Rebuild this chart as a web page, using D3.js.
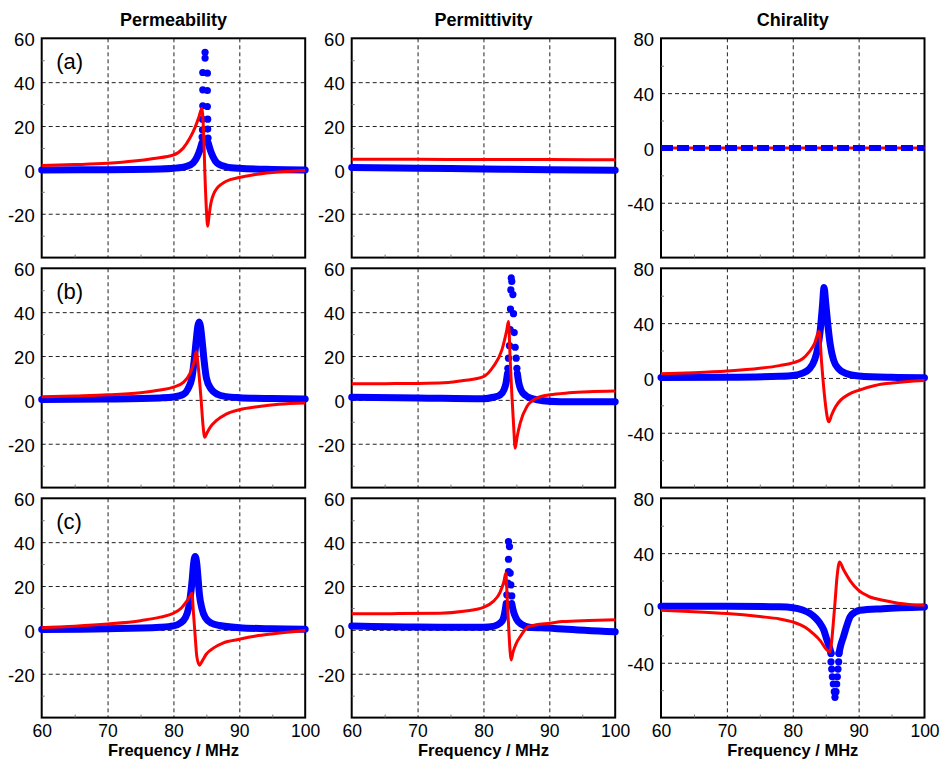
<!DOCTYPE html>
<html>
<head>
<meta charset="utf-8">
<script src="https://cdn.jsdelivr.net/npm/d3@7"></script>
<style>
  body { margin: 0; background: #fff; }
  text { font-family: "Liberation Sans", Arial, Helvetica, sans-serif; }
</style>
</head>
<body>
<script>
// [frequency MHz, value] pairs
// red = real part (line), blue = imaginary part (dots), null = break in the dense band

// (a) permeability
const muA_re = [[60,2],[65,2.4],[70,3],[74,4],[77,5.2],[80,6.8],[81.5,10],[82.5,14.5],[83.3,19.5],[83.9,24.5],[84.3,28],[84.55,19],[84.8,-4],[85.0,-18],[85.2,-25.7],[85.4,-21],[85.7,-15],[86.1,-11],[86.6,-8.4],[87.3,-6.5],[88,-5.2],[90,-3.5],[92,-2.3],[95,-1.2],[100,-0.3]];
const muA_im = [[60,0],[70,0.1],[78,0.4],[80,0.7],[82,1.6],[83,3.2],[83.6,6],[84.0,9],[84.35,12.5],null,[85.25,12.5],[85.6,9],[86,6],[86.6,3.2],[88,1.4],[90,0.7],[95,0.2],[100,0]];
const muA_dots = [[84.8,53.6],[84.8,51],[84.45,44.4],[84.45,36.5],[84.45,29.2],[84.4,23.1],[84.4,18.3],[84.35,15],[85.15,44.1],[85.15,36.2],[85.15,28.9],[85.2,23.1],[85.2,18.6],[85.25,14.5]];

// (a) permittivity
const epsA_re = [[60,4.9],[70,4.8],[80,4.7],[90,4.7],[100,4.6]];
const epsA_im = [[60,1.1],[70,0.8],[80,0.4],[90,0.1],[100,-0.2]];

// (a) chirality
const kapA_re = [[60,0],[100,0]];
const kapA_im = [[60,0],[100,0]];

// (b) permeability
const muB_re = [[60,1.4],[65,1.8],[70,2.3],[75,3.3],[78,4.5],[80,5.8],[81.5,8],[82.5,12],[83.1,17],[83.45,22],[83.8,14],[84.2,0],[84.5,-12],[84.75,-17],[85.1,-15],[85.7,-12],[86.5,-9.5],[88,-6.5],[90,-4.5],[93,-3],[96,-2],[100,-1.4]];
const muB_im = [[60,0.2],[70,0.4],[78,0.9],[80,1.3],[81.5,2.5],[82.2,5],[82.8,10],[83.15,18],[83.45,27],[83.7,33.5],[83.9,35.5],[84.1,33.5],[84.35,27],[84.65,18],[85.0,10],[85.7,5],[86.7,2.5],[88,1.5],[90,1],[95,0.6],[100,0.4]];

// (b) permittivity
const epsB_re = [[60,7.3],[65,7.4],[70,7.5],[74,7.8],[77,8.8],[80,10.6],[81.5,15.2],[82.8,22.8],[83.55,32],[83.8,35.7],[84.06,18.3],[84.3,3],[84.56,-10.6],[84.82,-22],[85.1,-17],[85.58,-10.6],[86.6,-3],[88.1,0.8],[90.1,2.3],[93,3.2],[96,3.7],[100,4]];
const epsB_im = [[60,1.2],[70,0.9],[80,0.5],[81.5,1.2],[82.5,2.2],[83.1,4.5],[83.45,8],[83.65,12],null,[85.15,12],[85.35,8],[85.7,4.5],[86.4,2],[87.5,0.5],[89,-0.4],[91.7,-0.8],[100,-0.9]];
const epsB_dots = [[84.21,55.6],[84.16,50.2],[84.1,41.4],[84.06,32],[83.95,24.7],[83.8,19],[83.7,14.4],[84.3,54],[84.47,48],[84.56,39.3],[84.67,30.7],[84.82,24],[84.97,19],[85.08,14.4]];

// (b) chirality
const kapB_re = [[60,3],[65,3.8],[70,5],[75,7],[78,9],[80,11],[81.5,14],[82.5,19],[83.3,25],[84.0,34],[84.4,10],[84.8,-12],[85.3,-30],[85.5,-32],[85.9,-27],[86.5,-21],[87.3,-16],[88.5,-12],[90,-9],[92.5,-5.5],[95,-3.7],[100,-1.8]];
const kapB_im = [[60,0.3],[70,0.5],[78,1.2],[80,1.8],[81.5,3.5],[82.5,6.5],[83.3,13],[83.8,22],[84.2,36],[84.5,52],[84.75,66],[85.0,55],[85.3,40],[85.7,24],[86.2,13],[87,6.5],[88,3.5],[90,1.5],[95,0.5],[100,0.2]];

// (c) permeability
const muC_re = [[60,1],[65,1.7],[70,2.7],[75,4.2],[78,5.8],[80,7.6],[81.2,10],[82,13],[82.5,15.3],[82.8,16.7],[83.04,7.6],[83.3,-3],[83.55,-12.2],[83.95,-16.1],[84.4,-14],[85,-11],[86.1,-8.2],[87.5,-6],[90,-4.3],[92.5,-2.8],[95.2,-1.8],[100,-0.3]];
const muC_im = [[60,0.2],[70,0.5],[78,1.2],[80,1.8],[81,3],[81.8,5.5],[82.3,10],[82.6,16],[82.85,23],[83.05,30],[83.3,33.5],[83.55,30],[83.75,23],[83.95,16],[84.3,10],[84.85,5.5],[85.8,3],[87,2],[90,1],[95,0.5],[100,0.3]];

// (c) permittivity
const epsC_re = [[60,7.3],[66,7.4],[73.4,7.6],[77,8.5],[80,10.3],[81.5,13],[82.5,17],[83.1,22],[83.4,25.9],[83.6,15],[83.85,0],[84.05,-10],[84.2,-13.7],[84.5,-10],[85,-6],[85.6,-3],[86.8,1.5],[88,2.3],[90.1,3],[92,3.8],[96,4.3],[100,4.6]];
const epsC_im = [[60,1.8],[70,1.3],[80,1.2],[81.5,1.6],[82.5,3],[83,5],[83.3,9],[83.45,12],null,[84.3,12],[84.5,9],[85,5],[85.8,2.5],[87,1.2],[90,0.8],[92,0.4],[100,-0.9]];
const epsC_dots = [[83.8,40.3],[83.95,38],[83.8,32.2],[83.8,26.6],[84.06,25.9],[83.7,21.3],[84.16,20.5],[83.55,16],[84.3,15.5]];

// (c) chirality
const kapC_re = [[60,-1.7],[65,-2.7],[70,-4.1],[75,-6.3],[78,-8],[80,-10.2],[82,-14.5],[83.1,-18.7],[84.2,-24],[85.2,-30.8],[85.6,-32],[86.35,0],[86.75,24],[87.1,33.5],[87.7,28],[88.7,20],[90,12.8],[91.5,8.5],[93.7,5.6],[96,3.5],[100,2]];
const kapC_im = [[60,1.2],[70,1.2],[78,0.8],[80,0.2],[81.5,-1.5],[82.6,-4],[83.5,-7.5],[84.1,-11],[84.7,-16],[85.2,-23.5],[85.6,-29],[85.81,-33],null,[87.02,-33],[87.3,-27],[87.7,-21],[88.2,-13],[88.7,-6.5],[89.5,-3],[90.2,-1.7],[93.7,-0.5],[100,0.7]];
const kapC_dots = [[85.81,-33.2],[85.81,-39.3],[85.91,-44.6],[86.01,-50.2],[86.16,-55.5],[86.31,-61.1],[86.41,-65.2],[86.57,-61.1],[86.67,-55.5],[86.77,-50.2],[86.87,-44.6],[86.97,-39.3],[87.02,-33.2]];

const columnTitles = ['Permeability', 'Permittivity', 'Chirality'];
const rowLabels = ['(a)', '(b)', '(c)'];
const freqTicks = [60, 70, 80, 90, 100];
const freqMinor = [65, 75, 85, 95];
const muEpsTicks = [-20, 0, 20, 40, 60];
const muEpsMinor = [-30, -10, 10, 30, 50];
const kapTicks = [-40, 0, 40, 80];
const kapMinor = [-60, -20, 20, 60];

const width = 940, height = 760;
const colX = [41.7, 351.7, 661];
const rowY = [38.3, 268.3, 498.3];
const pw = 263.5, ph = 219.3;

const panels = [
  {row: 0, col: 0, re: muA_re, im: muA_im, dots: muA_dots},
  {row: 0, col: 1, re: epsA_re, im: epsA_im},
  {row: 0, col: 2, re: kapA_re, im: kapA_im, dashed: true},
  {row: 1, col: 0, re: muB_re, im: muB_im},
  {row: 1, col: 1, re: epsB_re, im: epsB_im, dots: epsB_dots},
  {row: 1, col: 2, re: kapB_re, im: kapB_im},
  {row: 2, col: 0, re: muC_re, im: muC_im},
  {row: 2, col: 1, re: epsC_re, im: epsC_im, dots: epsC_dots},
  {row: 2, col: 2, re: kapC_re, im: kapC_im, dots: kapC_dots}
];

const svg = d3.select('body').append('svg')
  .attr('width', width)
  .attr('height', height);

const x = d3.scaleLinear().domain([60, 100]).range([0, pw]);

panels.forEach(function(p) {
  const isKap = p.col === 2;
  const y = d3.scaleLinear().domain(isKap ? [-80, 80] : [-40, 60]).range([ph, 0]);
  const ticks = isKap ? kapTicks : muEpsTicks;
  const minor = isKap ? kapMinor : muEpsMinor;

  const g = svg.append('g')
    .attr('transform', `translate(${colX[p.col]},${rowY[p.row]})`);

  // dashed grid
  g.append('g')
    .call(d3.axisBottom(x).tickValues(freqTicks.slice(1, -1)).tickSize(ph).tickFormat(''))
    .call(a => a.select('.domain').remove());
  g.append('g')
    .call(d3.axisLeft(y).tickValues(ticks.filter(t => t !== y.domain()[1])).tickSize(-pw).tickFormat(''))
    .call(a => a.select('.domain').remove());
  g.selectAll('.tick line')
    .attr('stroke', '#222')
    .attr('stroke-width', 1)
    .attr('stroke-dasharray', '4,3');

  g.append('rect')
    .attr('width', pw).attr('height', ph)
    .attr('fill', 'none')
    .attr('stroke', '#000')
    .attr('stroke-width', 2);

  // minor ticks inside
  const mg = g.append('g').attr('class', 'minor');
  mg.append('g')
    .call(d3.axisLeft(y).tickValues(minor).tickSize(-3).tickFormat(''));
  mg.append('g')
    .attr('transform', `translate(0,${ph})`)
    .call(d3.axisBottom(x).tickValues(freqMinor).tickSize(-3).tickFormat(''));
  mg.selectAll('.domain').remove();
  mg.selectAll('line').attr('stroke', '#777');

  // y labels
  const yl = g.append('g')
    .attr('transform', 'translate(0,1.5)')
    .call(d3.axisLeft(y).tickValues(ticks).tickSize(0).tickPadding(7).tickFormat(d => String(d)));
  yl.select('.domain').remove();
  yl.selectAll('text')
    .attr('font-size', 18.5)
    .attr('font-family', '"Liberation Sans", Arial, sans-serif')
    .attr('fill', '#000');

  if (p.row === 2) {
    const xl = g.append('g')
      .attr('transform', `translate(0,${ph})`)
      .call(d3.axisBottom(x).tickValues(freqTicks).tickSize(0).tickPadding(7).tickFormat(d => String(d)));
    xl.select('.domain').remove();
    xl.selectAll('text')
      .attr('font-size', 17.5)
      .attr('font-family', '"Liberation Sans", Arial, sans-serif')
      .attr('fill', '#000');

    g.append('text')
      .attr('x', pw / 2)
      .attr('y', ph + 38.4)
      .attr('text-anchor', 'middle')
      .attr('font-size', 16.5)
      .attr('font-weight', 'bold')
      .text('Frequency / MHz');
  }

  if (p.row === 0) {
    g.append('text')
      .attr('x', pw / 2)
      .attr('y', -12)
      .attr('text-anchor', 'middle')
      .attr('font-size', 18)
      .attr('font-weight', 'bold')
      .text(columnTitles[p.col]);
  }

  if (p.col === 0) {
    g.append('text')
      .attr('x', 14.5)
      .attr('y', 31)
      .attr('font-size', 22)
      .text(rowLabels[p.row]);
  }

  const line = d3.line()
    .defined(d => d !== null)
    .x(d => x(d[0]))
    .y(d => y(d[1]))
    .curve(d3.curveMonotoneX);

  function drawBlue() {
    g.append('path')
      .datum(p.im)
      .attr('d', line)
      .attr('fill', 'none')
      .attr('stroke', '#0000ff')
      .attr('stroke-width', p.dashed ? 6 : 7)
      .attr('stroke-linecap', p.dashed ? 'butt' : 'round')
      .attr('stroke-linejoin', 'round')
      .attr('stroke-dasharray', p.dashed ? '12,4' : null);
    if (p.dots) {
      g.selectAll('circle.dot')
        .data(p.dots)
        .join('circle')
        .attr('class', 'dot')
        .attr('cx', d => x(d[0]))
        .attr('cy', d => y(d[1]))
        .attr('r', 3.6)
        .attr('fill', '#0000ff');
    }
  }

  function drawRed() {
    g.append('path')
      .datum(p.re)
      .attr('d', line)
      .attr('fill', 'none')
      .attr('stroke', '#ff0000')
      .attr('stroke-width', 3)
      .attr('stroke-linejoin', 'round');
  }

  if (p.dashed) { drawRed(); drawBlue(); }
  else { drawBlue(); drawRed(); }
});
</script>
</body>
</html>
